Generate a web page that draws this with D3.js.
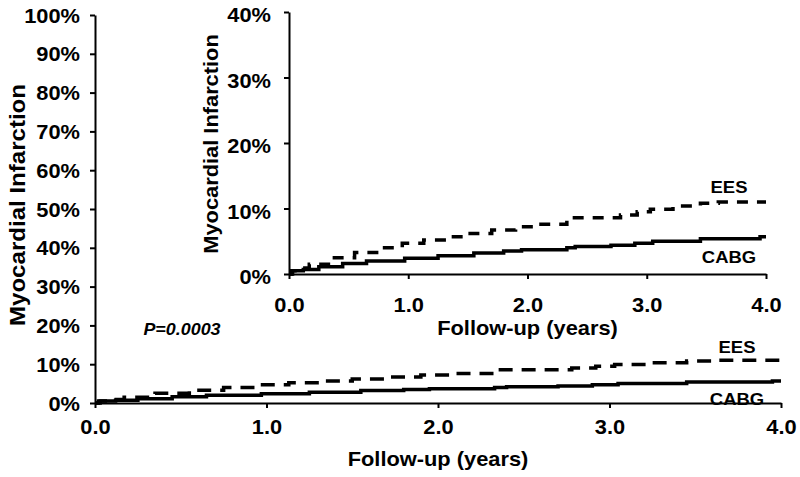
<!DOCTYPE html>
<html>
<head>
<meta charset="utf-8">
<script src="https://cdn.jsdelivr.net/npm/d3@7"></script>
<style>
  html, body { margin: 0; padding: 0; background: #fff; }
  svg { display: block; }
  text { font-family: "Liberation Sans", Arial, sans-serif; font-weight: bold; fill: #000; }
</style>
</head>
<body>
<svg id="chart" width="800" height="477"></svg>
<script>
// ---- data ----
const eesYears  = [0, 0.03, 0.10, 0.17, 0.35, 0.55, 0.75, 0.95, 1.13, 1.32, 1.50, 1.70, 1.90, 2.07, 2.33, 2.78, 2.92, 3.03, 3.22, 3.45, 3.60, 4.00];
const eesValues = [0, 0.5, 0.9, 1.5, 2.5, 3.3, 4.0, 4.7, 5.2, 5.7, 6.2, 6.7, 7.2, 7.6, 8.6, 9.0, 9.5, 9.9, 10.4, 10.8, 11.0, 11.0];
const cabgYears  = [0, 0.02, 0.12, 0.25, 0.45, 0.65, 0.97, 1.25, 1.55, 1.80, 1.95, 2.33, 2.40, 2.70, 2.90, 3.05, 3.45, 3.95, 4.00];
const cabgValues = [0, 0.5, 0.7, 1.1, 1.6, 2.0, 2.4, 2.8, 3.2, 3.5, 3.7, 4.0, 4.2, 4.4, 4.7, 5.0, 5.4, 5.7, 5.7];
const xTicks = [0, 1, 2, 3, 4];
const xTickLabels = ["0.0", "1.0", "2.0", "3.0", "4.0"];
const mainYTicks = [0, 10, 20, 30, 40, 50, 60, 70, 80, 90, 100];
const insetYTicks = [0, 10, 20, 30, 40];
const seriesNames = ["EES", "CABG"];
const yTitle = "Myocardial Infarction";
const xTitle = "Follow-up (years)";
const pText = "P=0.0003";

const SX = 1.12; // horizontal stretch of the lettering
const svg = d3.select("#chart");
const ees = eesYears.map((x, i) => ({x, y: eesValues[i]}));
const cabg = cabgYears.map((x, i) => ({x, y: cabgValues[i]}));

function label(g, x, y, s, size, opts = {}) {
  const rot = opts.rotate ? ` rotate(${opts.rotate})` : "";
  return g.append("text")
    .attr("transform", `translate(${x},${y})${rot} scale(${opts.sx || SX},1)`)
    .attr("text-anchor", "middle")
    .attr("dominant-baseline", "central")
    .style("font-size", size + "px")
    .style("font-style", opts.italic ? "italic" : "normal")
    .text(s);
}

function drawPanel(cfg) {
  const g = svg.append("g");
  const x = d3.scaleLinear().domain([0, 4]).range([cfg.x0, cfg.x1]);
  const y = d3.scaleLinear().domain([0, cfg.yMax]).range([cfg.y0, cfg.y1]);

  const ax = g.append("g").attr("transform", `translate(0,${cfg.y0})`)
    .call(d3.axisBottom(x).tickValues(xTicks).tickFormat((d, i) => xTickLabels[i])
      .tickSize(5).tickSizeOuter(0).tickPadding(cfg.xPad));
  const ay = g.append("g").attr("transform", `translate(${cfg.x0},0)`)
    .call(d3.axisLeft(y).tickValues(cfg.yTicks).tickFormat(d => d + "%")
      .tickSize(5).tickSizeOuter(0));
  [ax, ay].forEach(a => {
    a.select(".domain").attr("stroke", "#000").attr("stroke-width", 2);
    a.selectAll(".tick line").attr("stroke", "#000").attr("stroke-width", 2);
    a.selectAll("text").style("font-size", "19.5px").attr("fill", "#000")
      .style("font-family", '"Liberation Sans", Arial, sans-serif').style("font-weight", "bold");
  });
  ax.selectAll("text").attr("transform", `scale(${SX},1)`).attr("x", 0);
  ay.selectAll("text").attr("transform", `scale(${SX},1)`).attr("x", cfg.yLabOff / SX).attr("dy", cfg.yDy);

  const line = d3.line().x(d => x(d.x)).y(d => y(d.y)).curve(d3.curveStepAfter);
  g.append("path").datum(ees).attr("d", line).attr("fill", "none")
    .attr("stroke", "#000").attr("stroke-width", 3.5).attr("stroke-dasharray", cfg.dash);
  g.append("path").datum(cabg).attr("d", line).attr("fill", "none")
    .attr("stroke", "#000").attr("stroke-width", 3.5);

  label(g, cfg.yTitleX, cfg.yTitleY, yTitle, cfg.yTitleSize, {rotate: -90});
  label(g, (cfg.x0 + cfg.x1) / 2, cfg.xTitleY, xTitle, 19.5);
  label(g, cfg.eesLab[0], cfg.eesLab[1], seriesNames[0], 16.5);
  label(g, cfg.cabgLab[0], cfg.cabgLab[1], seriesNames[1], 16.5);
  return g;
}

// main panel
const main = drawPanel({
  x0: 95, x1: 781, y0: 403, y1: 15, yMax: 100, yTicks: mainYTicks,
  xPad: 12, yLabOff: -15, yDy: "0.36em", dash: "14,9",
  yTitleX: 17, yTitleY: 205, yTitleSize: 21.5,
  xTitleY: 459, eesLab: [737, 347], cabgLab: [737, 399]
});
label(main, 182, 330, pText, 16, {italic: true});

// inset panel
drawPanel({
  x0: 289, x1: 766, y0: 274, y1: 12, yMax: 40, yTicks: insetYTicks,
  xPad: 19, yLabOff: -18, yDy: "0.5em", dash: "11,9",
  yTitleX: 211, yTitleY: 144, yTitleSize: 19.5,
  xTitleY: 328, eesLab: [729, 187], cabgLab: [729, 257]
});
</script>
</body>
</html>
